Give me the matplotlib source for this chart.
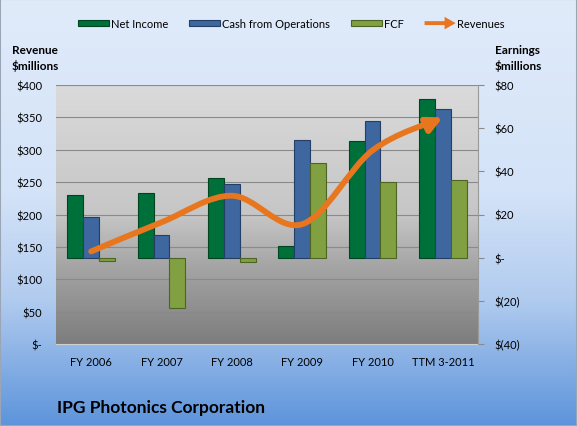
import numpy as np
import matplotlib
matplotlib.use("Agg")
import matplotlib.pyplot as plt
import matplotlib.patches as mpatches
from matplotlib.path import Path
from matplotlib.legend_handler import HandlerPatch
from matplotlib.colors import LinearSegmentedColormap

# data
categories = ["FY 2006", "FY 2007", "FY 2008", "FY 2009", "FY 2010", "TTM 3-2011"]
net_income = [29.0, 29.8, 36.7, 5.2, 54.0, 73.5]
cash_ops = [18.8, 10.5, 34.2, 54.4, 63.5, 68.8]
fcf = [-1.5, -23.5, -2.0, 44.0, 35.1, 36.0]
revenues = [143, 188, 229, 185, 299, 350]

rev_ticks = [0, 50, 100, 150, 200, 250, 300, 350, 400]
rev_labels = ["$-", "$50", "$100", "$150", "$200", "$250", "$300", "$350", "$400"]
earn_ticks = [-40, -20, 0, 20, 40, 60, 80]
earn_labels = ["$(40)", "$(20)", "$-", "$20", "$40", "$60", "$80"]

green = "#00703a"
blue = "#3e67a0"
olive = "#80a042"
orange = "#e8761e"

plt.rcParams['font.family'] = ['Lato', 'DejaVu Sans']
plt.rcParams['font.size'] = 8

fig = plt.figure(figsize=(5.77, 4.27), dpi=100)

# blue gradient background of the whole chart
bg = fig.add_axes([0, 0, 1, 1], zorder=-10)
bg_cmap = LinearSegmentedColormap.from_list(
    "bg", [(0, "#5d94db"), (0.3, "#b2ccef"), (0.55, "#d4e3f8"), (1, "#e0ebfa")])
bg.imshow(np.linspace(0, 1, 256).reshape(-1, 1), cmap=bg_cmap, origin="lower",
          aspect="auto", extent=[0, 1, 0, 1])
bg.axis("off")

ax = fig.add_axes([56 / 577, 1 - 345 / 427, 422 / 577, 259 / 427])
# gray gradient of the plot area
pa_cmap = LinearSegmentedColormap.from_list(
    "pa", [(0, "#7d7d7d"), (0.3, "#a5a5a5"), (0.5, "#c6c6c6"), (1, "#dadada")])
ax.imshow(np.linspace(0, 1, 256).reshape(-1, 1), cmap=pa_cmap, origin="lower",
          aspect="auto", extent=[0, 1, 0, 1], transform=ax.transAxes, zorder=0)
ax.patch.set_visible(False)
ax.set_xlim(-0.5, 5.5)
ax.set_ylim(0, 400)
for t in rev_ticks[1:]:
    ax.axhline(t, color="#8a8a8a", lw=0.8, zorder=1)
ax.set_yticks(rev_ticks, rev_labels)
x = np.arange(len(categories))
ax.set_xticks(x, categories)
ax.tick_params(axis="y", length=0, pad=10)
ax.tick_params(axis="x", length=0, pad=9)
for s in ["top", "left", "right"]:
    ax.spines[s].set_visible(False)
ax.spines["bottom"].set_color("#cfcfcf")

ax2 = ax.twinx()
ax2.set_ylim(-40, 80)
ax2.set_yticks(earn_ticks, earn_labels)
ax2.tick_params(axis="y", length=4, color="#8a8a8a", pad=8)
for s in ["top", "left", "bottom"]:
    ax2.spines[s].set_visible(False)
ax2.spines["right"].set_color("#9a9a9a")

w = 0.225
ax2.bar(x - w, net_income, w, color=green, edgecolor="#00451f", lw=0.8, zorder=2)
ax2.bar(x, cash_ops, w, color=blue, edgecolor="#243f66", lw=0.8, zorder=2)
ax2.bar(x + w, fcf, w, color=olive, edgecolor="#4d6424", lw=0.8, zorder=2)

# smoothed revenue line (Catmull-Rom style bezier through the points)
pts = np.column_stack([x, revenues]).astype(float)
ext = np.vstack([pts[0], pts, pts[-1]])
verts = [pts[0]]
codes = [Path.MOVETO]
for i in range(len(pts) - 1):
    p0, p1, p2, p3 = ext[i], ext[i + 1], ext[i + 2], ext[i + 3]
    verts += [p1 + (p2 - p0) / 6, p2 - (p3 - p1) / 6, p2]
    codes += [Path.CURVE4] * 3
arrow = mpatches.FancyArrowPatch(path=Path(verts, codes),
                                 arrowstyle="-|>,head_length=0.9,head_width=0.45",
                                 mutation_scale=10, lw=4.2, color=orange,
                                 capstyle="round", transform=ax.transData, zorder=5)
ax2.add_patch(arrow)


def bar_handle(legend, orig_handle, xdescent, ydescent, width, height, fontsize):
    return mpatches.Rectangle((-xdescent, -ydescent + height / 2 - 2), width, 4)


def arrow_handle(legend, orig_handle, xdescent, ydescent, width, height, fontsize):
    return mpatches.FancyArrow(-xdescent, -ydescent + height / 2, width, 0, width=2.8,
                               head_width=9, head_length=8, length_includes_head=True)


h_ni = mpatches.Patch(facecolor=green, edgecolor="#00451f", lw=0.8)
h_cf = mpatches.Patch(facecolor=blue, edgecolor="#243f66", lw=0.8)
h_fcf = mpatches.Patch(facecolor=olive, edgecolor="#4d6424", lw=0.8)
h_rev = mpatches.Patch(facecolor=orange, edgecolor=orange, lw=0)
fig.legend([h_ni, h_cf, h_fcf, h_rev], ["Net Income", "Cash from Operations", "FCF", "Revenues"],
           loc="center", bbox_to_anchor=(0.505, 1 - 24.5 / 427), ncol=4, frameon=False,
           handlelength=2.8, handletextpad=0.15, columnspacing=1.9,
           handler_map={mpatches.Patch: HandlerPatch(patch_func=bar_handle),
                        h_rev: HandlerPatch(patch_func=arrow_handle)})

fig.text(35 / 577, 1 - 59 / 427, "Revenue\n$millions", ha="center", va="center",
         weight="bold", fontsize=8.5, linespacing=1.4)
fig.text(518 / 577, 1 - 59 / 427, "Earnings\n$millions", ha="center", va="center",
         weight="bold", fontsize=8.5, linespacing=1.4)
fig.text(57 / 577, 1 - 408 / 427, "IPG Photonics Corporation", ha="left", va="center",
         weight="bold", fontsize=12.5)

fig.add_artist(mpatches.Rectangle((0, 0), 1, 1, transform=fig.transFigure, fill=False,
                                  edgecolor="#9aa6b6", lw=1.5))

fig.savefig("out.png", dpi=100)
